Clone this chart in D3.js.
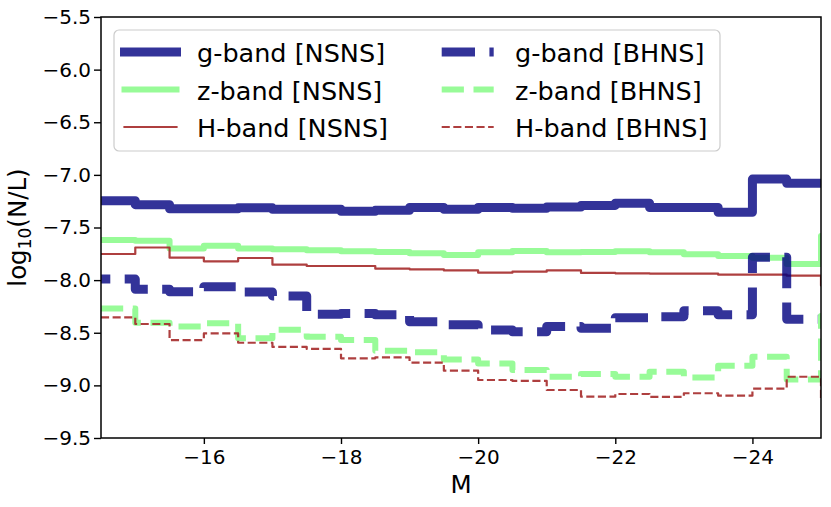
<!DOCTYPE html>
<html>
<head>
<meta charset="utf-8">
<script src="https://cdn.jsdelivr.net/npm/d3@7"></script>
<style>
  html, body { margin: 0; padding: 0; background: #fff; }
  svg { display: block; font-family: 'DejaVu Sans', sans-serif; }
</style>
</head>
<body>
<svg id="chart" width="831" height="507"></svg>
<script>
// bin edges in M (0.5 mag bins); the last bin lies beyond the axis limit
const binEdges = [-14.5, -15, -15.5, -16, -16.5, -17, -17.5, -18, -18.5, -19, -19.5,
    -20, -20.5, -21, -21.5, -22, -22.5, -23, -23.5, -24, -24.5, -25, -25.5];

const gNSNS = [-7.245, -7.283, -7.322, -7.322, -7.313, -7.327, -7.327, -7.346, -7.337, -7.31, -7.327,
    -7.31, -7.318, -7.305, -7.29, -7.27, -7.31, -7.31, -7.355, -7.04, -7.08, null];
const zNSNS = [-7.619, -7.625, -7.70, -7.673, -7.70, -7.707, -7.717, -7.726, -7.733, -7.745, -7.762,
    -7.736, -7.723, -7.736, -7.733, -7.726, -7.736, -7.755, -7.77, -7.787, -7.847, -7.58];
const hNSNS = [-7.752, -7.69, -7.787, -7.821, -7.79, -7.853, -7.866, -7.866, -7.891, -7.897, -7.908,
    -7.929, -7.92, -7.907, -7.932, -7.935, -7.938, -7.938, -7.948, -7.948, -7.958, -8.05];
const gBHNS = [-7.99, -8.087, -8.11, -8.062, -8.113, -8.15, -8.325, -8.316, -8.33, -8.395, -8.423,
    -8.474, -8.49, -8.44, -8.458, -8.357, -8.347, -8.29, -8.33, -7.783, -8.372, null];
const zBHNS = [-8.27, -8.404, -8.44, -8.409, -8.553, -8.471, -8.537, -8.569, -8.67, -8.686, -8.755,
    -8.791, -8.854, -8.918, -8.892, -8.918, -8.87, -8.924, -8.813, -8.727, -8.943, -8.34];
const hBHNS = [-8.353, -8.417, -8.57, -8.506, -8.595, -8.635, -8.654, -8.743, -8.734, -8.784, -8.86,
    -8.949, -8.958, -9.044, -9.107, -9.082, -9.11, -9.075, -9.098, -9.031, -8.918, -9.14];

const seriesLabels = ['g-band [NSNS]', 'z-band [NSNS]', 'H-band [NSNS]',
    'g-band [BHNS]', 'z-band [BHNS]', 'H-band [BHNS]'];
const seriesValues = [gNSNS, zNSNS, hNSNS, gBHNS, zBHNS, hBHNS];

const xTicks = [-16, -18, -20, -22, -24];
const yTicks = [-9.5, -9.0, -8.5, -8.0, -7.5, -7.0, -6.5, -6.0, -5.5];

// styles, in plotting order
const STYLES = [
    { color: 'navy', opacity: 0.8, width: 9, dash: null },
    { color: '#98fb98', opacity: 1, width: 6, dash: null },
    { color: '#a52a2a', opacity: 0.9, width: 2.2, dash: null },
    { color: 'navy', opacity: 0.8, width: 9, dash: [33.3, 14.4], offset: 24 },
    { color: '#98fb98', opacity: 1, width: 6, dash: [22.2, 9.6], offset: 0 },
    { color: '#a52a2a', opacity: 0.9, width: 2.2, dash: [8.1, 3.5], offset: 0 }
];

const PLOT = { left: 101, right: 821, top: 17, bottom: 438 };

const svg = d3.select('#chart');

const x = d3.scaleLinear().domain([-14.5, -25]).range([PLOT.left, PLOT.right]);
const y = d3.scaleLinear().domain([-9.5, -5.5]).range([PLOT.bottom, PLOT.top]);

svg.append('defs').append('clipPath')
    .attr('id', 'plot-clip')
    .append('rect')
    .attr('x', PLOT.left)
    .attr('y', PLOT.top)
    .attr('width', PLOT.right - PLOT.left)
    .attr('height', PLOT.bottom - PLOT.top);

const line = d3.line()
    .x(d => x(d[0]))
    .y(d => y(d[1]))
    .curve(d3.curveStepAfter);

function stepPoints(values) {
    const vals = values.filter(v => v !== null);
    const pts = vals.map((v, i) => [binEdges[i], v]);
    pts.push([binEdges[vals.length], vals[vals.length - 1]]);
    return pts;
}

const lines = svg.append('g').attr('clip-path', 'url(#plot-clip)');

seriesValues.forEach((values, i) => {
    const s = STYLES[i];
    const p = lines.append('path')
        .attr('d', line(stepPoints(values)))
        .attr('fill', 'none')
        .attr('stroke', s.color)
        .attr('stroke-opacity', s.opacity)
        .attr('stroke-width', s.width)
        .attr('stroke-linejoin', 'round')
        .attr('stroke-linecap', s.dash ? 'butt' : 'square');
    if (s.dash) {
        p.attr('stroke-dasharray', s.dash.join(','))
            .attr('stroke-dashoffset', s.offset);
    }
});

// axes
const fmtY = d3.format('.1f');
const fmtX = d3.format('d');

const xAxis = svg.append('g')
    .attr('transform', `translate(0,${PLOT.bottom})`)
    .call(d3.axisBottom(x).tickValues(xTicks).tickFormat(fmtX).tickSize(6).tickPadding(6));

const yAxis = svg.append('g')
    .attr('transform', `translate(${PLOT.left},0)`)
    .call(d3.axisLeft(y).tickValues(yTicks).tickFormat(fmtY).tickSize(7).tickPadding(3));

[xAxis, yAxis].forEach(ax => {
    ax.select('.domain').remove();
    ax.selectAll('.tick line').attr('stroke', '#000').attr('stroke-width', 1.4);
    ax.selectAll('.tick text')
        .attr('fill', '#000')
        .style('font-family', "'DejaVu Sans', sans-serif")
        .style('font-size', '20px');
});

svg.append('rect')
    .attr('x', PLOT.left)
    .attr('y', PLOT.top)
    .attr('width', PLOT.right - PLOT.left)
    .attr('height', PLOT.bottom - PLOT.top)
    .attr('fill', 'none')
    .attr('stroke', '#000')
    .attr('stroke-width', 1.5);

svg.append('text')
    .attr('x', (PLOT.left + PLOT.right) / 2)
    .attr('y', 493)
    .attr('text-anchor', 'middle')
    .style('font-size', '24.5px')
    .text('M');

const yLabel = svg.append('text')
    .attr('transform', `translate(26,${(PLOT.top + PLOT.bottom) / 2}) rotate(-90)`)
    .attr('text-anchor', 'middle')
    .style('font-size', '24.5px');
yLabel.append('tspan').text('log');
yLabel.append('tspan').attr('dy', 5).style('font-size', '17px').text('10');
yLabel.append('tspan').attr('dy', -5).text('(N/L)');

// legend (two columns, filled column-first)
const LEG = { x: 114, y: 30, w: 606, h: 121 };
const legend = svg.append('g');
legend.append('rect')
    .attr('x', LEG.x)
    .attr('y', LEG.y)
    .attr('width', LEG.w)
    .attr('height', LEG.h)
    .attr('rx', 5)
    .attr('fill', '#fff')
    .attr('fill-opacity', 0.8)
    .attr('stroke', '#cccccc')
    .attr('stroke-width', 1.2);

const colHandleX = [124.5, 441.7];
const colTextX = [197, 515];
const rowY = [52, 89.5, 127];
const handleLen = 52;

seriesLabels.forEach((label, i) => {
    const col = Math.floor(i / 3);
    const row = i % 3;
    const s = STYLES[i];
    const h = legend.append('line')
        .attr('x1', colHandleX[col])
        .attr('x2', colHandleX[col] + handleLen)
        .attr('y1', rowY[row])
        .attr('y2', rowY[row])
        .attr('stroke', s.color)
        .attr('stroke-opacity', s.opacity)
        .attr('stroke-width', s.width)
        .attr('stroke-linecap', s.dash ? 'butt' : 'square');
    if (s.dash) h.attr('stroke-dasharray', s.dash.join(','));
    legend.append('text')
        .attr('x', colTextX[col])
        .attr('y', rowY[row] + 10)
        .style('font-size', '25.5px')
        .text(label);
});
</script>
</body>
</html>
